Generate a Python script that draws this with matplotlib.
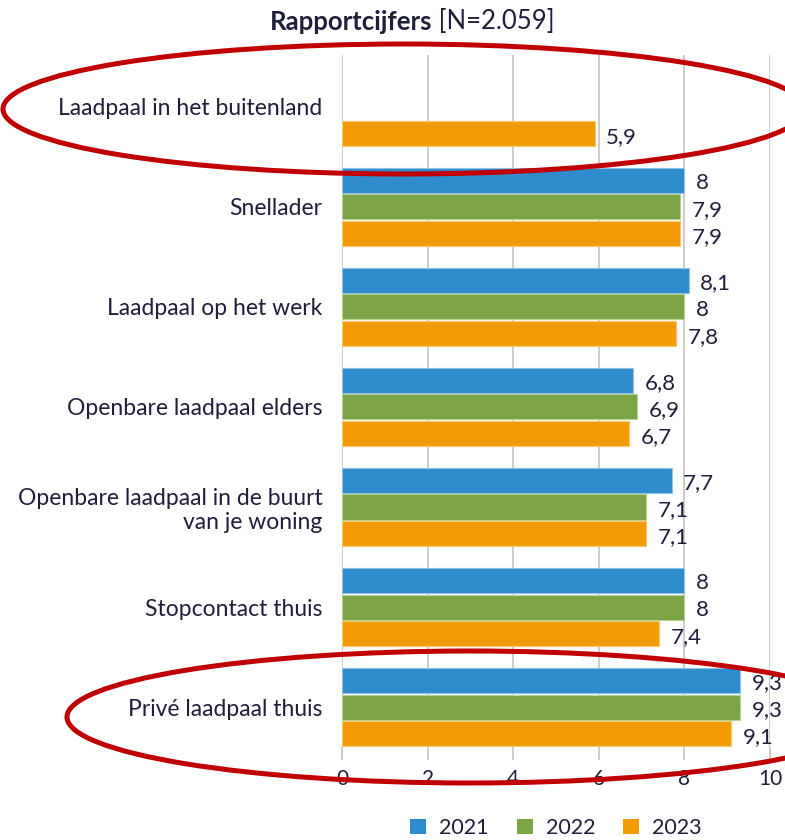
import numpy as np
import matplotlib.pyplot as plt
from matplotlib.patches import Ellipse, Patch

plt.rcParams['font.family'] = ['Lato', 'DejaVu Sans']

# Data
categories = ['Laadpaal in het buitenland', 'Snellader', 'Laadpaal op het werk',
              'Openbare laadpaal elders', 'Openbare laadpaal in de buurt\nvan je woning',
              'Stopcontact thuis', 'Privé laadpaal thuis']
years = ['2021', '2022', '2023']
v2021 = [np.nan, 8.0, 8.1, 6.8, 7.7, 8.0, 9.3]
v2022 = [np.nan, 7.9, 8.0, 6.9, 7.1, 8.0, 9.3]
v2023 = [5.9, 7.9, 7.8, 6.7, 7.1, 7.4, 9.1]
xticks = [0, 2, 4, 6, 8, 10]

colors = ['#2e8bcc', '#7aa446', '#f29b05']
edges = ['#8fc3e8', '#b7d190', '#f8c870']
text_col = '#1f1f3a'

W, H = 785, 840
fig = plt.figure(figsize=(W / 100, H / 100), dpi=100)
ax = fig.add_axes([342 / W, 1 - 747 / H, 428 / W, 692 / H])

y = np.arange(len(categories))
step = 0.268
for k, (vals, c, ec) in enumerate(zip([v2021, v2022, v2023], colors, edges)):
    pos = y + (k - 1) * step
    ax.barh(pos, vals, height=0.25, color=c, edgecolor=ec, linewidth=0.8, zorder=3)
    for p, v in zip(pos, vals):
        if np.isnan(v):
            continue
        ax.text(v + 0.27, p + 0.03, f'{v:g}'.replace('.', ','), va='center', ha='left',
                fontsize=16, color=text_col)

ax.set_xlim(0, 10)
ax.set_ylim(6.40, -0.52)
ax.set_xticks(xticks)
ax.set_xticklabels([str(t) for t in xticks], fontsize=15, color=text_col)
ax.set_yticks(y)
ax.set_yticklabels(categories, fontsize=16.5, color=text_col, ha='right',
                   linespacing=1.15)
ax.tick_params(axis='y', length=0, pad=14)
ax.tick_params(axis='x', length=9, width=1.3, color='#c8c8c8', pad=7)
ax.grid(axis='x', color='#c8c8c8', linewidth=1.3, zorder=0)
for s in ax.spines.values():
    s.set_visible(False)

# title: bold part + regular part
t1 = fig.text(270 / W, 1 - 22 / H, 'Rapportcijfers', fontsize=18.5, fontweight='bold',
              color=text_col, ha='left', va='center')
ax.annotate(' [N=2.059]', xy=(1, 0), xycoords=t1, fontsize=18.5, color=text_col,
            ha='left', va='bottom')

handles = [Patch(facecolor=c, edgecolor='none') for c in colors]
fig.legend(handles, years, loc='center', bbox_to_anchor=(556 / W, 1 - 828 / H),
           ncol=3, frameon=False, fontsize=15.5, handlelength=0.75, handleheight=0.75,
           handletextpad=0.6, columnspacing=1.3, labelcolor=text_col)

# red highlight ellipses
for cx, cy, a, b in [(404, 109, 401, 65), (470, 717, 403, 66)]:
    fig.add_artist(Ellipse((cx / W, 1 - cy / H), 2 * a / W, 2 * b / H,
                           transform=fig.transFigure, fill=False,
                           edgecolor='#c00000', linewidth=3.6, zorder=10, clip_on=False))

fig.savefig('out.png', dpi=100)
